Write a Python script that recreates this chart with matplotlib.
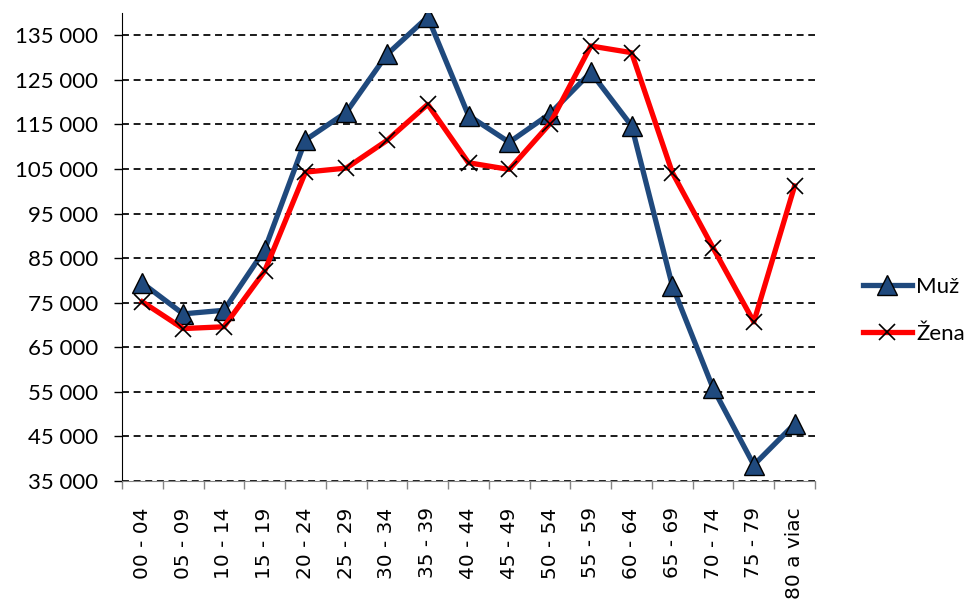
"""Population by age group and sex, line chart."""

import matplotlib

matplotlib.use("Agg")
import matplotlib.pyplot as plt
import numpy as np

age_groups = [
    "00 - 04", "05 - 09", "10 - 14", "15 - 19", "20 - 24", "25 - 29",
    "30 - 34", "35 - 39", "40 - 44", "45 - 49", "50 - 54", "55 - 59",
    "60 - 64", "65 - 69", "70 - 74", "75 - 79", "80 a viac",
]
muz = [
    79400, 72500, 73300, 86900, 111500, 117700, 130700, 139100, 117000,
    111000, 117400, 126700, 114700, 78800, 55800, 38600, 47800,
]
zena = [
    75200, 69200, 69600, 82100, 104300, 105200, 111400, 119500, 106400,
    104900, 115200, 132600, 131100, 104200, 87300, 70700, 101200,
]
y_ticks = list(range(35000, 135001, 10000))

fig = plt.figure(figsize=(9.68, 5.99), dpi=100)
ax = fig.add_axes([122 / 968, 1 - 481 / 599, (815 - 122) / 968, (481 - 13) / 599])

x = np.arange(len(age_groups))
ax.plot(x, muz, color="#1F497D", linewidth=3.8, marker="^", markersize=14,
        markerfacecolor="#1F497D", markeredgecolor="black", markeredgewidth=1.0,
        label="Muž", zorder=3)
ax.plot(x, zena, color="#FF0000", linewidth=3.8, marker="x", markersize=12,
        markeredgecolor="black", markeredgewidth=1.2, label="Žena", zorder=4)

ax.set_xlim(-0.5, len(age_groups) - 0.5)
ax.set_ylim(35000, 140000)

ax.set_yticks(y_ticks)
ax.set_yticklabels([f"{v:,}".replace(",", " ") for v in y_ticks],
                   fontfamily="Lato", fontsize=16)
ax.tick_params(axis="y", length=6, width=1, pad=11, color="black")
ax.yaxis.grid(True, color="black", linewidth=1.25, linestyle=(0, (4, 2.7)))
ax.set_axisbelow(True)

ax.set_xticks(x)
ax.set_xticklabels(age_groups, rotation=90, fontsize=14.5, fontfamily="DejaVu Sans")
ax.tick_params(axis="x", which="major", length=0, pad=19)
ax.set_xticks(np.arange(-0.5, len(age_groups), 1.0), minor=True)
ax.tick_params(axis="x", which="minor", length=6, width=1, color="#868686")

for side in ("top", "right"):
    ax.spines[side].set_visible(False)
ax.spines["bottom"].set_color("#868686")
ax.spines["left"].set_color("black")

ax.legend(loc="center left", bbox_to_anchor=(1.04, 0.365), frameon=False,
          prop={"family": "Lato", "size": 16}, handlelength=2.2,
          handletextpad=0.2, labelspacing=1.2)

fig.savefig("out.png", dpi=100)
plt.close(fig)
